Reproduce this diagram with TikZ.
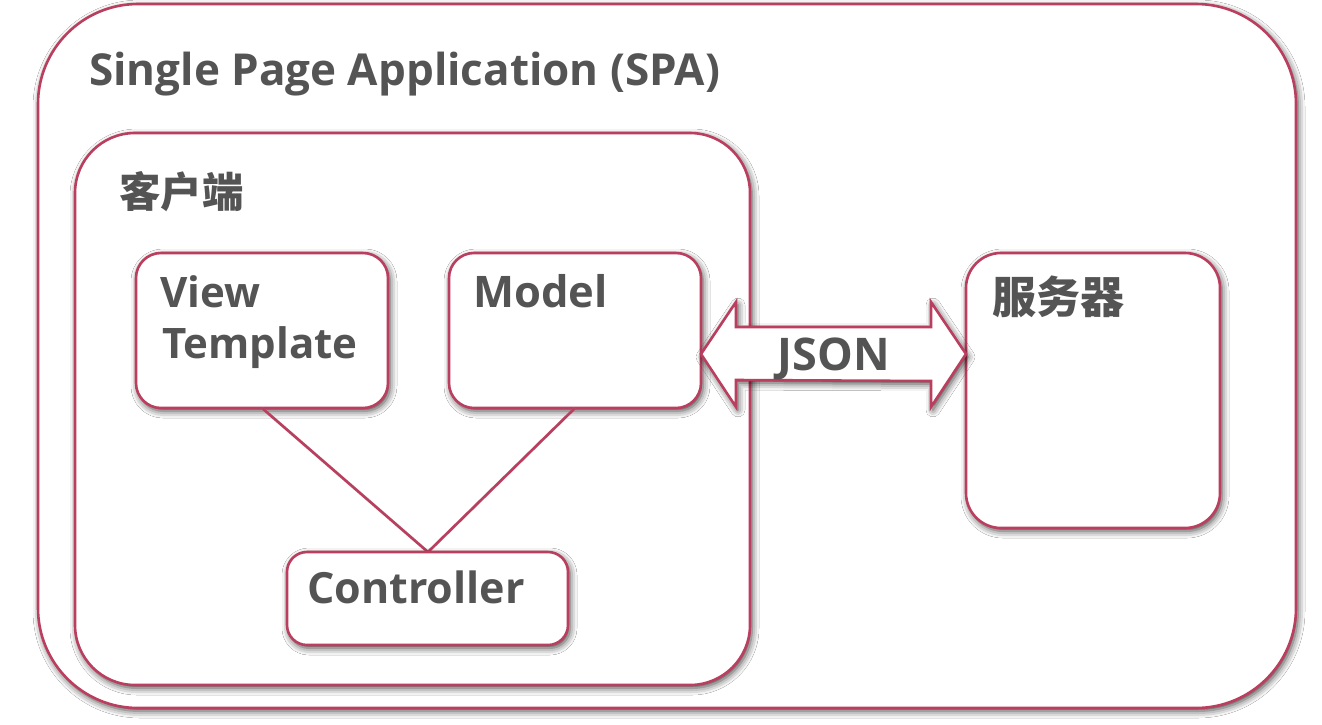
\documentclass[tikz,border=0pt]{standalone}
\usepackage{fontspec}
\setmainfont{Open Sans}
\newfontfamily\cjk{Noto Sans CJK SC}
\usetikzlibrary{shadows.blur}
\definecolor{rim}{RGB}{186,62,94}
\definecolor{txt}{RGB}{84,84,84}
\begin{document}
\begin{tikzpicture}[x=1pt,y=-1pt,
  shade/.style={blur shadow={shadow xshift=2pt, shadow yshift=-3pt, shadow blur radius=7pt, shadow opacity=75}},
  box/.style={draw=rim, line width=2.6pt, fill=white, rectangle, inner sep=0pt, outer sep=0pt, shade},
  lab/.style={text=txt, inner sep=0pt, font=\fontsize{42}{51}\selectfont\bfseries, anchor=base west, align=left},
  cjklab/.style={text=txt, inner sep=0pt, font=\fontsize{42}{48}\selectfont\cjk\bfseries, anchor=west},
  link/.style={draw=rim, line width=2.6pt}]
\useasboundingbox (0,0) rectangle (1322,724);
\fill[white] (0,0) rectangle (1322,724);

\node[box, rounded corners=100pt, minimum width=1258pt, minimum height=704pt] (spa) at (667,356) {};
\node[box, rounded corners=60pt, minimum width=675pt, minimum height=552pt] (client) at (412.5,409) {};
\node[box, rounded corners=25pt, minimum width=252pt, minimum height=155pt] (view) at (262,330.5) {};
\node[box, rounded corners=25pt, minimum width=252pt, minimum height=155pt] (model) at (575,330.5) {};
\node[box, rounded corners=35pt, minimum width=254pt, minimum height=275pt] (server) at (1093,390.5) {};

\coordinate (joint) at (428,552);
\draw[link, draw=black!35, line width=3pt, opacity=0.35, xshift=2pt, yshift=3pt] (view.south) -- (joint) -- (model.south);
\draw[link] (view.south) -- (joint) -- (model.south);

\node[box, rounded corners=20pt, minimum width=281pt, minimum height=93pt] (ctrl) at (427.5,598.5) {};

% JSON double arrow between Model and server
\coordinate (lt) at (model.east |- 0,354);
\coordinate (rt) at (server.west |- 0,354);
\draw[draw=rim, line width=2.6pt, fill=white, line join=miter, shade]
  (lt) -- ++(35,-52) -- ++(0,25) -- ($(rt)+(-35,-27)$) -- ++(0,-25) -- (rt)
  -- ++(-35,53) -- ++(0,-26) -- ($(lt)+(35,26)$) -- ++(0,27) -- cycle;
\node[text=txt, inner sep=0pt, font=\fontsize{45}{50}\selectfont\bfseries] (json) at (834,359) {JSON};

\node[lab, font=\fontsize{44}{51}\selectfont\bfseries] (title) at (89,85) {Single Page Application (SPA)};
\node[cjklab, font=\fontsize{41.5}{48}\selectfont\cjk\bfseries] (clientlab) at (119,192) {客户端};
\node[lab] (viewlab) at (160,307) {View};
\node[lab] (templab) at (162,358) {Template};
\node[lab, font=\fontsize{43.5}{51}\selectfont\bfseries] (modellab) at (473,307) {Model};
\node[lab, font=\fontsize{43}{51}\selectfont\bfseries] (ctrllab) at (307,603) {Controller};
\node[cjklab, font=\fontsize{44}{48}\selectfont\cjk\bfseries] (serverlab) at (992,297) {服务器};
\end{tikzpicture}
\end{document}
